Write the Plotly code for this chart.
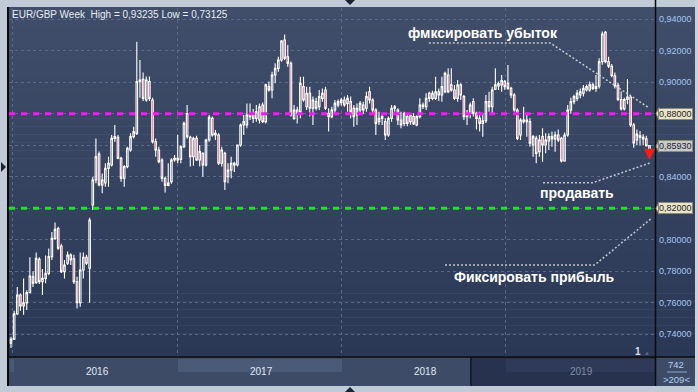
import plotly.graph_objects as go
import pandas as pd

# ---------------- data (EUR/GBP weekly) ----------------
open_ = [0.7345,0.7370,0.7530,0.7650,0.7580,0.7600,0.7665,0.7765,0.7730,0.7876,
         0.7734,0.7755,0.7787,0.7893,0.8009,0.8072,0.7960,0.7798,0.7851,0.7903,
         0.7880,0.7734,0.7601,0.7808,0.7889,0.7820,0.8221,0.8379,0.8543,0.8347,
         0.8360,0.8453,0.8474,0.8643,0.8650,0.8517,0.8390,0.8464,0.8569,0.8654,
         0.8675,0.9003,0.9017,0.8886,0.9003,0.8886,0.8622,0.8569,0.8506,0.8390,
         0.8345,0.8368,0.8506,0.8517,0.8510,0.8590,0.8800,0.8650,0.8527,0.8643,
         0.8506,0.8548,0.8474,0.8633,0.8770,0.8664,0.8664,0.8485,0.8548,0.8400,
         0.8442,0.8485,0.8474,0.8601,0.8728,0.8728,0.8781,0.8790,0.8770,0.8760,
         0.8855,0.8749,0.8971,0.8950,0.9045,0.9087,0.9140,0.9267,0.9161,0.9119,
         0.8770,0.8823,0.8812,0.8971,0.8844,0.8929,0.8834,0.8876,0.8844,0.8897,
         0.8950,0.8802,0.8781,0.8823,0.8855,0.8870,0.8886,0.8865,0.8876,0.8834,
         0.8791,0.8823,0.8855,0.8834,0.8939,0.8886,0.8823,0.8749,0.8770,0.8749,
         0.8664,0.8770,0.8834,0.8823,0.8760,0.8738,0.8781,0.8749,0.8781,0.8728,
         0.8781,0.8855,0.8844,0.8929,0.8897,0.8897,0.8939,0.8918,0.8939,0.9045,
         0.8982,0.8950,0.8897,0.8982,0.8908,0.8781,0.8802,0.8876,0.8802,0.8770,
         0.8738,0.8755,0.8876,0.8844,0.8955,0.8975,0.8982,0.9003,0.8992,0.8960,
         0.8918,0.8823,0.8664,0.8760,0.8749,0.8749,0.8601,0.8643,0.8559,0.8654,
         0.8601,0.8626,0.8654,0.8640,0.8664,0.8643,0.8500,0.8664,0.8823,0.8876,
         0.8897,0.8918,0.8929,0.8950,0.8950,0.8982,0.8960,0.8975,0.9129,0.9315,
         0.9130,0.9100,0.9040,0.8980,0.8890,0.8830,0.8890,0.8905,0.8728,0.8633,
         0.8660,0.8650,0.8640,0.8597]
high = [0.7385,0.7550,0.7700,0.7660,0.7755,0.7680,0.7890,0.7800,0.7920,0.7890,
        0.7815,0.7900,0.7945,0.8050,0.8110,0.8083,0.7975,0.7872,0.7925,0.7915,
        0.7905,0.7766,0.7920,0.7920,0.7905,0.8140,0.8400,0.8643,0.8560,0.8420,
        0.8485,0.8527,0.8664,0.8728,0.8665,0.8527,0.8474,0.8590,0.8675,0.8717,
        0.9256,0.9140,0.9060,0.9035,0.9035,0.8900,0.8643,0.8590,0.8517,0.8400,
        0.8485,0.8517,0.8538,0.8664,0.8600,0.8750,0.8855,0.8660,0.8654,0.8660,
        0.8601,0.8555,0.8640,0.8791,0.8781,0.8696,0.8675,0.8590,0.8559,0.8485,
        0.8527,0.8495,0.8601,0.8738,0.8791,0.8865,0.8865,0.8830,0.8855,0.8865,
        0.8870,0.8990,0.9003,0.9066,0.9119,0.9161,0.9267,0.9302,0.9235,0.9130,
        0.8855,0.8844,0.9034,0.9034,0.8971,0.8971,0.8908,0.8900,0.8950,0.8960,
        0.8971,0.8834,0.8844,0.8886,0.8890,0.8900,0.8908,0.8918,0.8908,0.8855,
        0.8865,0.8880,0.8875,0.8939,0.8971,0.8897,0.8834,0.8812,0.8802,0.8770,
        0.8781,0.8855,0.8855,0.8834,0.8812,0.8812,0.8800,0.8800,0.8802,0.8790,
        0.8897,0.8870,0.8929,0.8939,0.8945,0.9034,0.8960,0.9034,0.9066,0.9087,
        0.9087,0.8982,0.9013,0.8992,0.8918,0.8823,0.8870,0.8897,0.8812,0.8812,
        0.8802,0.8918,0.8939,0.8971,0.9087,0.9003,0.9045,0.9013,0.9108,0.8971,
        0.8929,0.8834,0.8770,0.8844,0.8791,0.8770,0.8664,0.8660,0.8664,0.8707,
        0.8675,0.8675,0.8686,0.8686,0.8700,0.8654,0.8680,0.8855,0.8900,0.8920,
        0.8950,0.8960,0.8982,0.8985,0.9003,0.8995,0.9045,0.9151,0.9320,0.93235,
        0.9160,0.9115,0.9060,0.8995,0.8940,0.8900,0.9020,0.8920,0.8740,0.8700,
        0.8690,0.8670,0.8660,0.8600]
low = [0.7313,0.7365,0.7525,0.7550,0.7525,0.7555,0.7660,0.7700,0.7720,0.7720,
       0.7650,0.7724,0.7775,0.7872,0.7998,0.7935,0.7790,0.7755,0.7840,0.7840,
       0.7720,0.7565,0.7576,0.7755,0.7840,0.7600,0.8189,0.8358,0.8340,0.8295,
       0.8337,0.8337,0.8464,0.8622,0.8510,0.8368,0.8337,0.8453,0.8559,0.8643,
       0.8665,0.8900,0.8880,0.8875,0.8880,0.8610,0.8527,0.8485,0.8368,0.8300,
       0.8340,0.8355,0.8495,0.8485,0.8485,0.8580,0.8640,0.8464,0.8470,0.8500,
       0.8464,0.8400,0.8464,0.8622,0.8654,0.8633,0.8474,0.8464,0.8316,0.8358,
       0.8390,0.8430,0.8464,0.8590,0.8664,0.8707,0.8760,0.8740,0.8749,0.8738,
       0.8740,0.8738,0.8939,0.8897,0.8992,0.9066,0.9129,0.9140,0.9098,0.8781,
       0.8760,0.8738,0.8770,0.8876,0.8823,0.8781,0.8728,0.8820,0.8823,0.8876,
       0.8823,0.8686,0.8770,0.8802,0.8840,0.8850,0.8844,0.8812,0.8770,0.8717,
       0.8728,0.8810,0.8800,0.8812,0.8865,0.8791,0.8664,0.8728,0.8728,0.8633,
       0.8654,0.8749,0.8812,0.8728,0.8707,0.8720,0.8720,0.8730,0.8728,0.8720,
       0.8770,0.8830,0.8823,0.8876,0.8885,0.8886,0.8880,0.8876,0.8929,0.8929,
       0.8939,0.8886,0.8875,0.8886,0.8760,0.8728,0.8770,0.8781,0.8700,0.8686,
       0.8654,0.8740,0.8812,0.8802,0.8950,0.8950,0.8939,0.8950,0.8950,0.8897,
       0.8812,0.8633,0.8633,0.8738,0.8654,0.8590,0.8527,0.8485,0.8527,0.8495,
       0.8548,0.8569,0.8590,0.8559,0.8620,0.8490,0.8495,0.8654,0.8800,0.8860,
       0.8880,0.8897,0.8908,0.8940,0.8939,0.8950,0.8939,0.8960,0.9110,0.9120,
       0.9090,0.9030,0.8960,0.8880,0.8820,0.8820,0.8860,0.8715,0.8583,0.8600,
       0.8600,0.8600,0.8590,0.8548]
close = [0.7370,0.7530,0.7650,0.7580,0.7600,0.7665,0.7770,0.7725,0.7882,0.7734,
         0.7755,0.7787,0.7893,0.8009,0.8066,0.7946,0.7798,0.7840,0.7903,0.7872,
         0.7734,0.7601,0.7808,0.7889,0.7851,0.8125,0.8379,0.8527,0.8347,0.8379,
         0.8453,0.8485,0.8643,0.8654,0.8517,0.8390,0.8464,0.8580,0.8654,0.8685,
         0.9003,0.9013,0.8897,0.9013,0.8897,0.8622,0.8569,0.8495,0.8390,0.8345,
         0.8360,0.8506,0.8517,0.8506,0.8590,0.8738,0.8654,0.8527,0.8643,0.8506,
         0.8559,0.8474,0.8633,0.8776,0.8664,0.8675,0.8485,0.8569,0.8368,0.8442,
         0.8485,0.8474,0.8601,0.8728,0.8750,0.8791,0.8795,0.8770,0.8812,0.8844,
         0.8749,0.8982,0.8950,0.9045,0.9087,0.9140,0.9260,0.9151,0.9119,0.8791,
         0.8823,0.8802,0.8992,0.8886,0.8929,0.8834,0.8886,0.8834,0.8908,0.8929,
         0.8834,0.8781,0.8823,0.8865,0.8876,0.8886,0.8855,0.8897,0.8812,0.8781,
         0.8834,0.8865,0.8823,0.8908,0.8886,0.8823,0.8738,0.8770,0.8781,0.8664,
         0.8770,0.8834,0.8844,0.8760,0.8728,0.8800,0.8738,0.8791,0.8735,0.8781,
         0.8855,0.8844,0.8897,0.8897,0.8929,0.8939,0.8918,0.8971,0.9055,0.8939,
         0.8950,0.8897,0.8982,0.8918,0.8781,0.8802,0.8855,0.8802,0.8770,0.8738,
         0.8755,0.8876,0.8844,0.8950,0.8982,0.8990,0.9010,0.8971,0.8960,0.8918,
         0.8823,0.8643,0.8760,0.8749,0.8760,0.8612,0.8654,0.8548,0.8633,0.8601,
         0.8633,0.8654,0.8640,0.8664,0.8633,0.8500,0.8664,0.8823,0.8876,0.8908,
         0.8929,0.8939,0.8960,0.8971,0.8982,0.8960,0.8971,0.9129,0.9305,0.9130,
         0.9100,0.9040,0.8975,0.8890,0.8830,0.8890,0.8905,0.8728,0.8614,0.8670,
         0.8650,0.8640,0.8597,0.8555]
week_start = pd.date_range("2015-12-28", periods=len(close), freq="7D")

title_text = "EUR/GBP Week  High = 0,93235 Low = 0,73125"
ytick_vals = [0.74, 0.76, 0.78, 0.80, 0.82, 0.84, 0.86, 0.88, 0.90, 0.92, 0.94]
ytick_text = ["0,74000", "0,76000", "0,78000", "0,80000", "", "0,84000", "", "",
              "0,90000", "0,92000", "0,94000"]
year_starts = ["2016-01-01", "2017-01-01", "2018-01-01", "2019-01-01"]
year_labels = ["2016", "2017", "2018", "2019"]
stop_level = 0.88          # magenta line
take_level = 0.82          # green line
last_price = 0.85930
level_labels = ["0,88000", "0,85930", "0,82000"]
bar_count_text = ["742", ">209<"]

# annotation leader lines (date, price)
stop_note = ("фмксировать убыток", "2018-11-12", 0.9311)
stop_leader_x = ["2018-07-15", "2019-04-11", "2019-11-14"]
stop_leader_y = [0.9248, 0.9248, 0.8842]
sell_note = ("продавать", "2019-06-10", 0.8297)
sell_leader_x = ["2019-03-26", "2019-07-15", "2019-11-19"]
sell_leader_y = [0.8362, 0.8362, 0.8487]
take_note = ("Фиксировать прибыль", "2019-03-08", 0.7764)
take_leader_x = ["2018-08-20", "2019-07-19", "2019-11-21"]
take_leader_y = [0.7840, 0.7840, 0.8132]

# ---------------- layout geometry helpers ----------------
W, H = 698, 392
ML, MR, MT, MB = 9, 43, 8, 35
PW, PH = W - ML - MR, H - MT - MB
def px(x):
    return (x - ML) / PW
def py(y):
    return (H - MB - y) / PH

FONT = "Liberation Sans, Arial, sans-serif"

fig = go.Figure()
fig.add_trace(go.Candlestick(
    x=week_start, open=open_, high=high, low=low, close=close,
    increasing=dict(line=dict(color="#ffffff", width=1.1), fillcolor="rgba(0,0,0,0)"),
    decreasing=dict(line=dict(color="#ffffff", width=1.1), fillcolor="#e8083a"),
    whiskerwidth=0, hoverinfo="skip", showlegend=False))

for xs, ys in [(stop_leader_x, stop_leader_y), (sell_leader_x, sell_leader_y),
               (take_leader_x, take_leader_y)]:
    fig.add_trace(go.Scatter(x=xs, y=ys, mode="lines",
                             line=dict(color="#c4c8cc", width=1.5, dash="2px,2px"),
                             hoverinfo="skip", showlegend=False))

shapes = []
# gradient background (plot + right scale panel)
N = 44
top_c, bot_c = (64, 78, 106), (42, 56, 86)
y_top, y_bot = 7, 357
for i in range(N):
    t = i / (N - 1)
    c = tuple(int(round(top_c[j] + (bot_c[j] - top_c[j]) * t)) for j in range(3))
    ya = y_top + (y_bot - y_top) * i / N
    yb = y_top + (y_bot - y_top) * (i + 1) / N
    shapes.append(dict(type="rect", xref="paper", yref="paper", layer="below",
                       x0=px(8), x1=px(696), y0=py(yb + 0.5), y1=py(ya),
                       fillcolor="rgb(%d,%d,%d)" % c, line=dict(width=0)))

# reference levels
shapes.append(dict(type="line", xref="paper", yref="y", x0=0, x1=1, y0=stop_level, y1=stop_level,
                   line=dict(color="#ff14ff", width=3, dash="6px,6px"), layer="above"))
shapes.append(dict(type="line", xref="paper", yref="y", x0=0, x1=1, y0=take_level, y1=take_level,
                   line=dict(color="#10f010", width=3, dash="6px,6px"), layer="above"))

# timeline bar
def rect(x0, x1, y0, y1, color):
    shapes.append(dict(type="rect", xref="paper", yref="paper", layer="above",
                       x0=px(x0), x1=px(x1), y0=py(y1), y1=py(y0),
                       fillcolor=color, line=dict(width=0)))
rect(8, 698, 357, 386, "#3d4b67")
rect(10, 14, 359, 372, "#4a5975")
rect(178, 342, 359, 372, "#4b5a77")
rect(471, 655, 357, 386, "#27334e")
rect(506, 655, 359, 372, "#2e3a57")
rect(695, 698, 0, 392, "#c9d1dc")

def line(x0, y0, x1, y1, color, w):
    shapes.append(dict(type="line", xref="paper", yref="paper", layer="above",
                       x0=px(x0), x1=px(x1), y0=py(y0), y1=py(y1),
                       line=dict(color=color, width=w)))
line(471, 357, 471, 386, "#18202f", 2)
line(8, 7, 8, 386, "#0b0b0b", 2)
line(655.5, 0, 655.5, 386, "#0b0b0b", 1.5)
line(8, 357, 695, 357, "#0b0b0b", 1.5)
line(667, 372, 687, 372, "#8fa8c8", 1)

# little frame triangles
def tri(path_pts, color):
    p = "M " + " L ".join("%f,%f" % (px(a), py(b)) for a, b in path_pts) + " Z"
    shapes.append(dict(type="path", xref="paper", yref="paper", layer="above",
                       path=p, fillcolor=color, line=dict(width=0)))
tri([(1, 162), (6, 167), (1, 172)], "#1b2333")
tri([(345, 0), (355, 0), (350, 5)], "#1b2333")
tri([(345, 392), (355, 392), (350, 387)], "#1b2333")

# badge pointers
for lvl, col in [(stop_level, "#e9e5c8"), (last_price, "#c6cacf"), (take_level, "#e9e5c8")]:
    shapes.append(dict(type="path", xref="paper", yref="y", xsizemode="pixel", ysizemode="pixel",
                       xanchor=1, yanchor=lvl, path="M 1,0 L 4,6 L 4,-6 Z",
                       fillcolor=col, line=dict(color="#8a8a78", width=1), layer="above"))

annotations = []
annotations.append(dict(text=title_text, xref="paper", yref="paper", x=px(10), y=py(15),
                        xanchor="left", yanchor="middle", showarrow=False,
                        font=dict(family=FONT, size=10, color="#e8edf5")))

# right price scale labels
for v, t in zip(ytick_vals, ytick_text):
    if t:
        annotations.append(dict(text=t, xref="paper", yref="y", x=1, y=v, xanchor="left",
                                yanchor="middle", xshift=2, showarrow=False,
                                font=dict(family=FONT, size=9, color="#a6c6ee")))

year_px = [97, 261, 425, 581]
for lab, xp in zip(year_labels, year_px):
    annotations.append(dict(text=lab, xref="paper", yref="paper", x=px(xp), y=py(371),
                            xanchor="center", yanchor="middle", showarrow=False,
                            font=dict(family=FONT, size=10,
                                      color="#7f8ca3" if lab == "2019" else "#e2e8f0")))
annotations.append(dict(text=bar_count_text[0], xref="paper", yref="paper", x=px(676), y=py(364),
                        xanchor="center", yanchor="middle", showarrow=False,
                        font=dict(family=FONT, size=9.5, color="#b4cff0")))
annotations.append(dict(text=bar_count_text[1], xref="paper", yref="paper", x=px(676), y=py(379),
                        xanchor="center", yanchor="middle", showarrow=False,
                        font=dict(family=FONT, size=9.5, color="#b4cff0")))
annotations.append(dict(text="<b>1</b>", xref="paper", yref="paper", x=px(638), y=py(351),
                        xanchor="center", yanchor="middle", showarrow=False,
                        font=dict(family=FONT, size=10, color="#d8dee8")))
annotations.append(dict(text="▲", xref="paper", yref="paper", x=px(647), y=py(353),
                        xanchor="center", yanchor="middle", showarrow=False,
                        font=dict(family=FONT, size=6, color="#5d6a84")))

for txt, lvl, bg in [(level_labels[0], stop_level, "#e9e5c8"),
                     (level_labels[1], last_price, "#c6cacf"),
                     (level_labels[2], take_level, "#e9e5c8")]:
    annotations.append(dict(text=txt, xref="paper", yref="y", x=1, y=lvl, xanchor="left",
                            yanchor="middle", xshift=3, showarrow=False,
                            font=dict(family=FONT, size=9, color="#1e1e1e"),
                            bgcolor=bg, bordercolor="#8a8a78", borderwidth=1, borderpad=0))

for txt, xd, yv in [stop_note, sell_note, take_note]:
    annotations.append(dict(text=txt, xref="x", yref="y", x=xd, y=yv, xanchor="center",
                            yanchor="middle", showarrow=False,
                            font=dict(family=FONT, size=14, color="#ffffff", weight="bold")))

# sell signal arrow under the last bar
annotations.append(dict(x=week_start[-1], y=low[-1] - 0.0042, xref="x", yref="y", text="",
                        showarrow=True, ax=0, ay=-9, arrowhead=2, arrowsize=0.9,
                        arrowwidth=2.5, arrowcolor="#ff1a1a"))

fig.update_layout(
    width=W, height=H, autosize=False,
    margin=dict(l=ML, r=MR, t=MT, b=MB, pad=0),
    paper_bgcolor="#c1cad7", plot_bgcolor="rgba(0,0,0,0)",
    showlegend=False, shapes=shapes, annotations=annotations,
    font=dict(family=FONT),
    xaxis=dict(type="date", range=["2015-12-23 13:00", "2019-11-30 08:00"],
               tickvals=year_starts, showticklabels=False, ticks="", automargin=False,
               showgrid=True, gridcolor="#5a6985", griddash="3px,3px", gridwidth=1,
               zeroline=False, showline=False, rangeslider=dict(visible=False),
               fixedrange=True),
    yaxis=dict(side="right", range=[0.72567, 0.94698], tickvals=ytick_vals,
               showticklabels=False, ticks="", automargin=False,
               showgrid=True, gridcolor="#5a6985", griddash="3px,3px", gridwidth=1,
               zeroline=False, showline=False, fixedrange=True),
)

fig.write_html("out.html")
